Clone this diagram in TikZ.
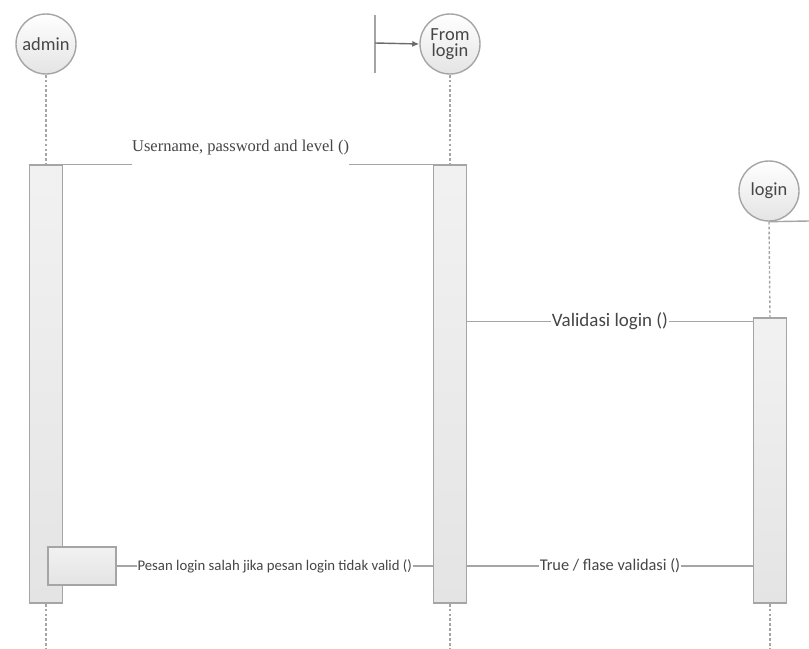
\documentclass[tikz,border=0pt]{standalone}
\usepackage{fontspec}
\setmainfont{Carlito}
\newfontfamily\timesfont{Liberation Serif}
\usepackage{tikz}
\usetikzlibrary{arrows.meta}
\definecolor{GrisLinea}{RGB}{165,165,165}
\definecolor{GrisRelleno}{RGB}{228,228,228}
\definecolor{GrisTexto}{RGB}{70,70,70}

\tikzset{
  actor/.style={circle,draw=GrisLinea,line width=0.8pt,top color=white,bottom color=GrisRelleno,
    minimum size=12mm,inner sep=0pt,align=center,text=GrisTexto,font=\fontsize{10.5}{10}\selectfont},
  activ/.style={draw=GrisLinea,line width=0.8pt,top color=white!50!GrisRelleno,bottom color=GrisRelleno,
    minimum width=6.6mm,inner sep=0pt},
  lifeline/.style={GrisLinea,line width=0.8pt,dash pattern=on 1.6pt off 1.2pt},
  msg/.style={GrisLinea,line width=0.8pt},
  msglabel/.style={fill=white,inner xsep=0.5pt,inner ysep=1pt,text=GrisTexto}
}

\begin{document}
\begin{tikzpicture}[x=0.2mm,y=-0.2mm,>=Latex]
  \useasboundingbox (0,0) rectangle (809,649);
  % objetos
  \node[actor] (admin) at (46,44) {admin};
  \node[actor] (fromlogin) at (450,44) {From\\[-1pt]login};
  \node[actor] (login) at (769,191) {login};
  % simbolo de frontera
  \coordinate (bndtop) at (375,15);
  \coordinate (bndbot) at (375,73);
  \coordinate (bndmid) at (375,43);
  \draw[msg] (bndtop) -- (bndbot);
  \draw[msg,-{Latex[length=4pt,width=3.5pt]},GrisTexto!80] (bndmid) -- (fromlogin.west);
  \coordinate (loginedge) at (809,221);
  \draw[msg] (login.south) -- (loginedge);
  % activaciones
  \node[activ,minimum height=87.6mm] (adminact) at (46,384) {};
  \node[activ,minimum height=87.6mm] (fromloginact) at (450,384) {};
  \node[activ,minimum height=57mm] (loginact) at (770,460.5) {};
  \node[activ,minimum width=13.6mm,minimum height=7.6mm] (selfact) at (82,566) {};
  % lineas de vida
  \coordinate (adminend) at (46,649);
  \coordinate (fromloginend) at (450,649);
  \coordinate (loginend) at (770,649);
  \draw[lifeline] (admin.south) -- (adminact.north);
  \draw[lifeline] (adminact.south) -- (adminend);
  \draw[lifeline] (fromlogin.south) -- (fromloginact.north);
  \draw[lifeline] (fromloginact.south) -- (fromloginend);
  \draw[lifeline] (login.south) -- (loginact.north);
  \draw[lifeline] (loginact.south) -- (loginend);
  % mensajes
  \draw[msg] (adminact.north east) -- (fromloginact.north west)
    node[msglabel,pos=0.48,anchor=base,yshift=2.6mm,text depth=3.4mm,inner xsep=0pt,
      font=\timesfont\fontsize{9.4}{10}\selectfont] {Username, password and level ()};
  \coordinate (valid) at ([yshift=-0.8mm]loginact.north west);
  \draw[msg] (valid -| fromloginact.east) -- (valid)
    node[msglabel,midway,font=\fontsize{10.8}{12}\selectfont] {Validasi login ()};
  \draw[msg] (selfact.east -| fromloginact.east) -- (selfact.east -| loginact.west)
    node[msglabel,midway,font=\fontsize{9.3}{10}\selectfont] {True / flase validasi ()};
  \draw[msg] (selfact.east) -- (selfact.east -| fromloginact.west)
    node[msglabel,midway,font=\fontsize{8.4}{10}\selectfont] {Pesan login salah jika pesan login tidak valid ()};
\end{tikzpicture}
\end{document}
